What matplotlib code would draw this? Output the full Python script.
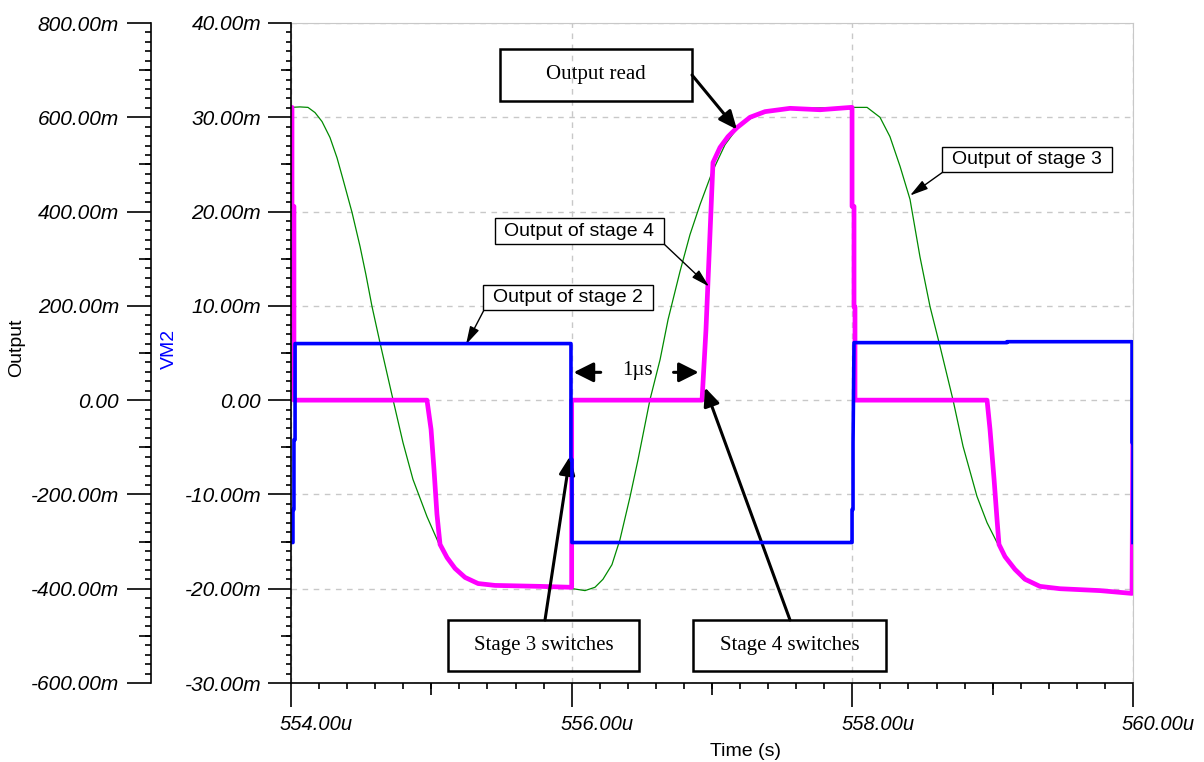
import numpy as np
import matplotlib.pyplot as plt
from matplotlib.patches import Rectangle
import matplotlib.transforms as mtransforms

# ---- data ----
# Output of stage 4 (magenta), Output axis [V], time [us]
t_stage4 = [554.000, 554.007, 554.007, 554.021, 554.021, 554.969, 554.998, 555.019,
            555.040, 555.062, 555.112, 555.169, 555.240, 555.333, 555.454, 555.774,
            556.000, 556.000, 556.929, 556.957, 556.978, 557.007, 557.057, 557.114,
            557.178, 557.271, 557.378, 557.556, 557.770, 557.991, 557.998, 557.998,
            558.012, 558.012, 558.019, 558.019, 558.960, 558.981, 559.010, 559.031,
            559.045, 559.088, 559.159, 559.231, 559.337, 559.480, 559.765, 559.993,
            560.000]
v_stage4 = [0.621, 0.621, 0.411, 0.411, 0.0, 0.0, -0.062, -0.147,
            -0.242, -0.306, -0.334, -0.357, -0.376, -0.389, -0.393, -0.395,
            -0.397, 0.0, 0.0, 0.149, 0.298, 0.504, 0.536, 0.559,
            0.578, 0.600, 0.612, 0.619, 0.616, 0.621, 0.621, 0.411,
            0.411, 0.198, 0.198, 0.0, 0.0, -0.062, -0.168, -0.253,
            -0.306, -0.332, -0.359, -0.380, -0.395, -0.400, -0.404, -0.410,
            0.0]

# Output of stage 3 (green), Output axis [V]
t_stage3 = [554.000, 554.064, 554.121, 554.171, 554.221, 554.278, 554.328, 554.371,
            554.435, 554.492, 554.534, 554.577, 554.634, 554.727, 554.798, 554.869,
            554.969, 555.062, 555.147, 555.240, 555.347, 555.489, 555.774, 555.988,
            556.095, 556.166, 556.223, 556.287, 556.344, 556.416, 556.473, 556.558,
            556.630, 556.687, 556.772, 556.843, 556.915, 557.000, 557.093, 557.200,
            557.342, 557.556, 557.991, 558.105, 558.197, 558.268, 558.340, 558.411,
            558.482, 558.554, 558.625, 558.717, 558.789, 558.888, 558.960, 559.031,
            559.124, 559.216, 559.337, 559.551, 559.765, 560.000]
v_stage3 = [0.621, 0.622, 0.621, 0.610, 0.591, 0.557, 0.514, 0.468,
            0.398, 0.326, 0.266, 0.199, 0.122, 0.001, -0.090, -0.168,
            -0.247, -0.310, -0.349, -0.376, -0.391, -0.395, -0.397, -0.399,
            -0.404, -0.397, -0.380, -0.349, -0.296, -0.205, -0.126, 0.001,
            0.086, 0.171, 0.273, 0.351, 0.415, 0.483, 0.542, 0.585,
            0.608, 0.619, 0.621, 0.621, 0.600, 0.559, 0.496, 0.426,
            0.304, 0.198, 0.114, 0.001, -0.098, -0.204, -0.260, -0.302,
            -0.344, -0.380, -0.397, -0.401, -0.406, -0.410]

# Output of stage 2 (blue), VM2 axis
t_stage2 = [554.000, 554.014, 554.014, 554.021, 554.021, 554.029, 554.029, 555.995,
            555.995, 556.002, 556.002, 557.991, 557.998, 557.998, 558.005, 558.005,
            558.012, 559.102, 559.102, 559.993, 559.993, 560.000, 560.000]
v_stage2 = [-15.1, -15.1, -11.6, -11.6, -4.2, -4.2, 6.0, 6.0,
            -6.3, -6.3, -15.1, -15.1, -15.1, -11.6, -11.6, -4.5,
            6.1, 6.1, 6.2, 6.2, -4.5, -4.5, -15.1]

out_ticks = [-0.6, -0.4, -0.2, 0.0, 0.2, 0.4, 0.6, 0.8]
vm2_ticks = [-30, -20, -10, 0, 10, 20, 30, 40]
time_ticks = [554, 556, 558, 560]


def mlabel(v):
    return '0.00' if abs(v) < 1e-9 else f'{v:.2f}m'


plt.rcParams['font.family'] = ['Liberation Sans', 'DejaVu Sans']
W, H = 1204, 762
fig = plt.figure(figsize=(W / 100, H / 100), dpi=100)
ax = fig.add_axes([291 / W, 1 - 683 / H, 842 / W, 660 / H])  # Output axis
axv = ax.twinx()  # VM2 axis

ax.plot(t_stage3, v_stage3, color='#008a00', lw=0.9, zorder=2)
ax.plot(t_stage4, v_stage4, color='#ff00ff', lw=3.4, zorder=3)
axv.plot(t_stage2, v_stage2, color='#0000ff', lw=2.6)

ax.set_xlim(554, 560)
ax.set_ylim(-0.6, 0.8)
axv.set_ylim(-30, 40)

grey = '#c8c8c8'
ax.grid(True, color=grey, linestyle=(0, (4, 4)), lw=1)
for s in ['top', 'right']:
    ax.spines[s].set_color(grey)
ax.spines['left'].set_position(('outward', 140 * 0.72))  # 140 px
for s in ['top', 'right', 'bottom']:
    axv.spines[s].set_visible(False)
for a in (ax, axv):
    for s in ['left', 'bottom']:
        a.spines[s].set_linewidth(1.2)

# Output axis (outer)
ax.set_yticks(out_ticks, labels=[mlabel(v * 1000) for v in out_ticks],
              fontstyle='italic', fontsize=15)
ax.set_yticks(np.arange(-0.6, 0.801, 0.02), minor=True)
ax.tick_params(axis='y', which='major', length=17, width=1.2, pad=6)
ax.tick_params(axis='y', which='minor', length=4.3, width=1.2)

# VM2 axis (inner)
axv.yaxis.tick_left()
axv.set_yticks(vm2_ticks, labels=[mlabel(v) for v in vm2_ticks],
               fontstyle='italic', fontsize=15)
axv.set_yticks(np.arange(-30, 41, 1), minor=True)
axv.tick_params(axis='y', which='major', length=16.5, width=1.2, pad=5)
axv.tick_params(axis='y', which='minor', length=3.6, width=1.2)

# time axis
ax.set_xticks(time_ticks, labels=[f'{v:.2f}u' for v in time_ticks],
              fontstyle='italic', fontsize=14.5)
ax.set_xticks(np.arange(554, 560.01, 0.2), minor=True)
ax.tick_params(axis='x', which='major', length=17.3, width=1.2, pad=6)
ax.tick_params(axis='x', which='minor', length=4.3, width=1.2)
shift = mtransforms.ScaledTranslation(-11 / 100, 0, fig.dpi_scale_trans)
for lbl in ax.get_xticklabels():
    lbl.set_horizontalalignment('left')
    lbl.set_transform(lbl.get_transform() + shift)

# middle-length ticks
sx = ax.secondary_xaxis('bottom')
sx.set_xticks([555, 557, 559], labels=[])
sx.tick_params(length=8.6, width=1.2)
sx.spines['bottom'].set_visible(False)
sy = ax.secondary_yaxis(-140 / 842)
sy.set_yticks([-0.5, -0.3, -0.1, 0.1, 0.3, 0.5, 0.7], labels=[])
sy.tick_params(length=8.6, width=1.2)
sy.spines['left'].set_visible(False)
sv = axv.secondary_yaxis('left')
sv.set_yticks([-25, -15, -5, 5, 15, 25, 35], labels=[])
sv.tick_params(length=7.2, width=1.2)
sv.spines['left'].set_visible(False)

fig.text(17 / W, 1 - 348 / H, 'Output', rotation=90, ha='center', va='center', fontsize=14)
fig.text(169 / W, 1 - 349 / H, 'VM2', rotation=90, ha='center', va='center',
         fontsize=14, color='#0000ff')
fig.text(710 / W, 1 - 752 / H, 'Time (s)', ha='left', va='center', fontsize=14)


# ---- annotations ----
def box(x0, y0, x1, y1, text, serif, lw, fill):
    fig.add_artist(Rectangle((x0 / W, 1 - y1 / H), (x1 - x0) / W, (y1 - y0) / H,
                             transform=fig.transFigure, lw=lw, edgecolor='k',
                             facecolor='white', fill=fill, zorder=5))
    fig.text((x0 + x1) / 2 / W, 1 - (y0 + y1) / 2 / H, text, ha='center', va='center',
             fontsize=15 if serif else 14, zorder=6,
             family='Liberation Serif' if serif else 'Liberation Sans')


def arrow(tip, start_px, lw, hw):
    ax.annotate('', xy=tip, xycoords='data', xytext=(start_px[0], H - start_px[1]),
                textcoords='figure pixels',
                arrowprops=dict(arrowstyle=f'-|>,head_length=0.55,head_width={hw}',
                                color='k', lw=lw, shrinkA=0, shrinkB=0,
                                mutation_scale=20), zorder=6)


box(500, 49, 692, 101, 'Output read', True, 1.8, False)
arrow((557.178, 0.574), (692, 75), 2.2, 0.24)

box(448, 620, 639, 671, 'Stage 3 switches', True, 1.8, False)
arrow((555.988, -0.119), (545, 620), 2.2, 0.24)

box(693, 620, 886, 671, 'Stage 4 switches', True, 1.8, False)
arrow((556.950, 0.027), (790, 620), 2.2, 0.24)

box(942, 147, 1112, 172, 'Output of stage 3', False, 1.0, True)
arrow((558.411, 0.434), (943, 172), 1.0, 0.15)

box(495, 218, 664, 244, 'Output of stage 4', False, 1.0, True)
arrow((556.979, 0.241), (664, 244), 1.0, 0.15)

box(483, 285, 653, 310, 'Output of stage 2', False, 1.0, True)
arrow((555.247, 0.118), (484, 310), 1.0, 0.15)

# 1 us marker
ax.annotate('', xy=(556.014, 0.059), xytext=(556.207, 0.059),
            arrowprops=dict(arrowstyle='-|>,head_length=0.6,head_width=0.3', color='k',
                            lw=2.2, shrinkA=0, shrinkB=0, mutation_scale=20))
ax.annotate('', xy=(556.905, 0.059), xytext=(556.726, 0.059),
            arrowprops=dict(arrowstyle='-|>,head_length=0.6,head_width=0.3', color='k',
                            lw=2.2, shrinkA=0, shrinkB=0, mutation_scale=20))
ax.text(556.47, 0.062, '1µs', ha='center', va='center', fontsize=15,
        family='Liberation Serif')

fig.savefig('out.png', dpi=100)
